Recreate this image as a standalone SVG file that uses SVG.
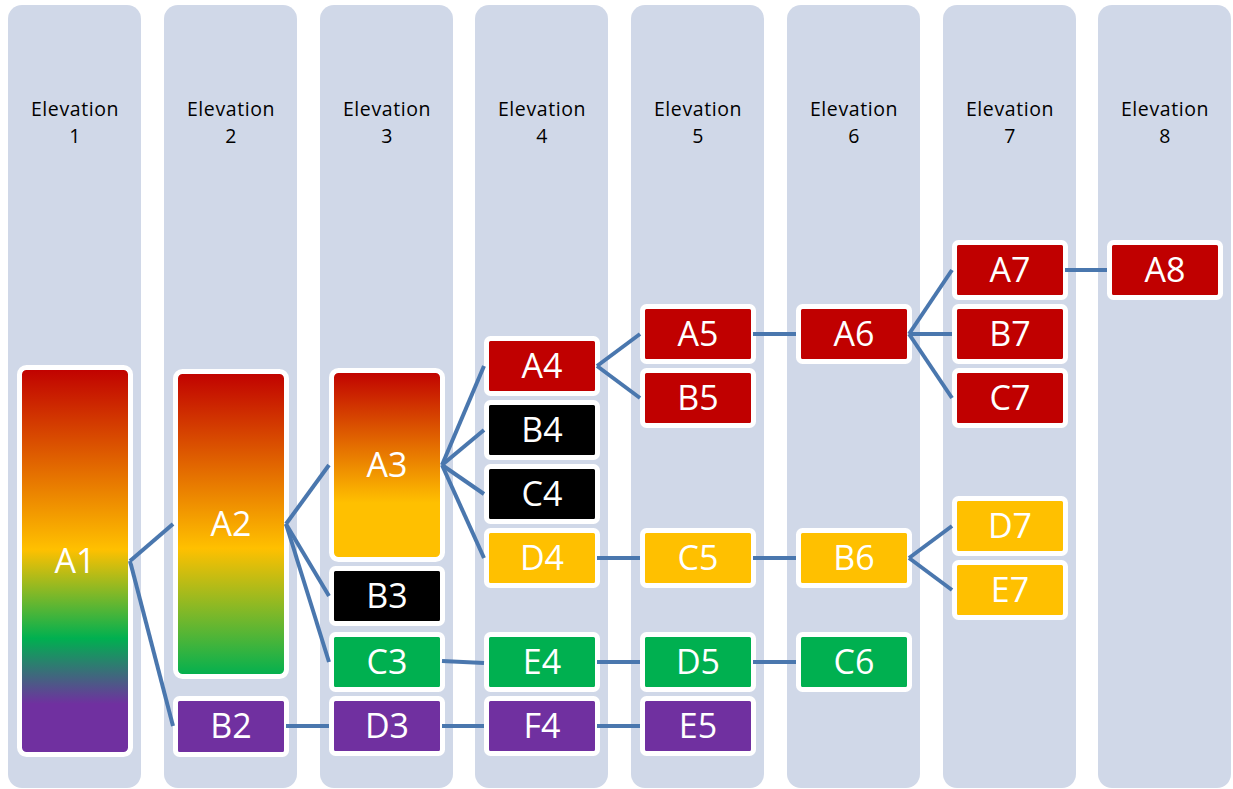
<svg xmlns="http://www.w3.org/2000/svg" width="1233" height="789" viewBox="0 0 1233 789">
<defs>
<linearGradient id="g1" x1="0" y1="0" x2="0" y2="1">
<stop offset="0" stop-color="#C00000"/>
<stop offset="0.47" stop-color="#FFC000"/>
<stop offset="0.70" stop-color="#00B050"/>
<stop offset="0.87" stop-color="#7030A0"/>
<stop offset="1" stop-color="#7030A0"/>
</linearGradient>
<linearGradient id="g2" x1="0" y1="0" x2="0" y2="1">
<stop offset="0" stop-color="#C00000"/>
<stop offset="0.58" stop-color="#FFC000"/>
<stop offset="1" stop-color="#00B050"/>
</linearGradient>
<linearGradient id="g3" x1="0" y1="0" x2="0" y2="1">
<stop offset="0" stop-color="#C00000"/>
<stop offset="0.70" stop-color="#FFC000"/>
<stop offset="1" stop-color="#FFC000"/>
</linearGradient>
</defs>
<style>
.col{fill:#D0D8E8}
.hdr{font-family:"Open Sans","Liberation Sans",sans-serif;font-size:19.5px;letter-spacing:0.6px;fill:#000;text-anchor:middle}
.n rect{stroke:#FFFFFF;stroke-width:5}
.n text{font-family:"Open Sans","Liberation Sans",sans-serif;font-size:34px;fill:#FFFFFF;text-anchor:middle}
.red{fill:#C00000}.blk{fill:#000000}.yel{fill:#FFC000}.grn{fill:#00B050}.pur{fill:#7030A0}
#connectors line{stroke:#4A77AE;stroke-width:4;fill:none}
</style>
<g id="columns">
<rect class="col" x="8" y="5" width="133" height="783" rx="14"/>
<rect class="col" x="164" y="5" width="133" height="783" rx="14"/>
<rect class="col" x="320" y="5" width="133" height="783" rx="14"/>
<rect class="col" x="475" y="5" width="133" height="783" rx="14"/>
<rect class="col" x="631" y="5" width="133" height="783" rx="14"/>
<rect class="col" x="787" y="5" width="133" height="783" rx="14"/>
<rect class="col" x="943" y="5" width="133" height="783" rx="14"/>
<rect class="col" x="1098" y="5" width="133" height="783" rx="14"/>
<text class="hdr" x="75" y="116">Elevation</text><text class="hdr" x="75" y="143">1</text>
<text class="hdr" x="231" y="116">Elevation</text><text class="hdr" x="231" y="143">2</text>
<text class="hdr" x="387" y="116">Elevation</text><text class="hdr" x="387" y="143">3</text>
<text class="hdr" x="542" y="116">Elevation</text><text class="hdr" x="542" y="143">4</text>
<text class="hdr" x="698" y="116">Elevation</text><text class="hdr" x="698" y="143">5</text>
<text class="hdr" x="854" y="116">Elevation</text><text class="hdr" x="854" y="143">6</text>
<text class="hdr" x="1010" y="116">Elevation</text><text class="hdr" x="1010" y="143">7</text>
<text class="hdr" x="1165" y="116">Elevation</text><text class="hdr" x="1165" y="143">8</text>
</g>
<g id="nodes">
<g id="A1" class="n"><rect x="19.5" y="367.5" width="111" height="387" rx="7" fill="url(#g1)"/><text x="75" y="573">A1</text></g>
<g id="A2" class="n"><rect x="175.5" y="371.5" width="111" height="305" rx="7" fill="url(#g2)"/><text x="231" y="536">A2</text></g>
<g id="B2" class="n"><rect class="pur" x="175.5" y="698.5" width="111" height="56" rx="4"/><text x="231" y="738">B2</text></g>
<g id="A3" class="n"><rect x="331.5" y="370.5" width="111" height="189" rx="7" fill="url(#g3)"/><text x="387" y="477">A3</text></g>
<g id="B3" class="n"><rect class="blk" x="331.5" y="568.5" width="111" height="55" rx="4"/><text x="387" y="608">B3</text></g>
<g id="C3" class="n"><rect class="grn" x="331.5" y="634.5" width="111" height="55" rx="4"/><text x="387" y="674">C3</text></g>
<g id="D3" class="n"><rect class="pur" x="331.5" y="698.5" width="111" height="55" rx="4"/><text x="387" y="738">D3</text></g>
<g id="A4" class="n"><rect class="red" x="486.5" y="338.5" width="111" height="55" rx="4"/><text x="542" y="378">A4</text></g>
<g id="B4" class="n"><rect class="blk" x="486.5" y="402.5" width="111" height="55" rx="4"/><text x="542" y="442">B4</text></g>
<g id="C4" class="n"><rect class="blk" x="486.5" y="466.5" width="111" height="55" rx="4"/><text x="542" y="506">C4</text></g>
<g id="D4" class="n"><rect class="yel" x="486.5" y="530.5" width="111" height="55" rx="4"/><text x="542" y="570">D4</text></g>
<g id="E4" class="n"><rect class="grn" x="486.5" y="634.5" width="111" height="55" rx="4"/><text x="542" y="674">E4</text></g>
<g id="F4" class="n"><rect class="pur" x="486.5" y="698.5" width="111" height="55" rx="4"/><text x="542" y="738">F4</text></g>
<g id="A5" class="n"><rect class="red" x="642.5" y="306.5" width="111" height="55" rx="4"/><text x="698" y="346">A5</text></g>
<g id="B5" class="n"><rect class="red" x="642.5" y="370.5" width="111" height="55" rx="4"/><text x="698" y="410">B5</text></g>
<g id="C5" class="n"><rect class="yel" x="642.5" y="530.5" width="111" height="55" rx="4"/><text x="698" y="570">C5</text></g>
<g id="D5" class="n"><rect class="grn" x="642.5" y="634.5" width="111" height="55" rx="4"/><text x="698" y="674">D5</text></g>
<g id="E5" class="n"><rect class="pur" x="642.5" y="698.5" width="111" height="55" rx="4"/><text x="698" y="738">E5</text></g>
<g id="A6" class="n"><rect class="red" x="798.5" y="306.5" width="111" height="55" rx="4"/><text x="854" y="346">A6</text></g>
<g id="B6" class="n"><rect class="yel" x="798.5" y="530.5" width="111" height="55" rx="4"/><text x="854" y="570">B6</text></g>
<g id="C6" class="n"><rect class="grn" x="798.5" y="634.5" width="111" height="55" rx="4"/><text x="854" y="674">C6</text></g>
<g id="A7" class="n"><rect class="red" x="954.5" y="242.5" width="111" height="55" rx="4"/><text x="1010" y="282">A7</text></g>
<g id="B7" class="n"><rect class="red" x="954.5" y="306.5" width="111" height="55" rx="4"/><text x="1010" y="346">B7</text></g>
<g id="C7" class="n"><rect class="red" x="954.5" y="370.5" width="111" height="55" rx="4"/><text x="1010" y="410">C7</text></g>
<g id="D7" class="n"><rect class="yel" x="954.5" y="498.5" width="111" height="55" rx="4"/><text x="1010" y="538">D7</text></g>
<g id="E7" class="n"><rect class="yel" x="954.5" y="562.5" width="111" height="55" rx="4"/><text x="1010" y="602">E7</text></g>
<g id="A8" class="n"><rect class="red" x="1109.5" y="242.5" width="111" height="55" rx="4"/><text x="1165" y="282">A8</text></g>
</g>
<g id="connectors">
<line x1="130" y1="561" x2="173" y2="524"/>
<line x1="130" y1="561" x2="173" y2="726"/>
<line x1="286" y1="524" x2="329" y2="465"/>
<line x1="286" y1="524" x2="329" y2="596"/>
<line x1="286" y1="524" x2="329" y2="662"/>
<line x1="286" y1="726" x2="329" y2="726"/>
<line x1="442" y1="465" x2="484" y2="366"/>
<line x1="442" y1="465" x2="484" y2="430"/>
<line x1="442" y1="465" x2="484" y2="494"/>
<line x1="442" y1="465" x2="484" y2="558"/>
<line x1="442" y1="661" x2="484" y2="663"/>
<line x1="442" y1="726" x2="484" y2="726"/>
<line x1="597" y1="366" x2="640" y2="334"/>
<line x1="597" y1="366" x2="640" y2="398"/>
<line x1="597" y1="558" x2="640" y2="558"/>
<line x1="597" y1="662" x2="640" y2="662"/>
<line x1="597" y1="726" x2="640" y2="726"/>
<line x1="753" y1="334" x2="796" y2="334"/>
<line x1="753" y1="558" x2="796" y2="558"/>
<line x1="753" y1="662" x2="796" y2="662"/>
<line x1="909" y1="334" x2="952" y2="270"/>
<line x1="909" y1="334" x2="952" y2="334"/>
<line x1="909" y1="334" x2="952" y2="398"/>
<line x1="909" y1="558" x2="952" y2="526"/>
<line x1="909" y1="558" x2="952" y2="590"/>
<line x1="1065" y1="270" x2="1107" y2="270"/>
</g>
</svg>
